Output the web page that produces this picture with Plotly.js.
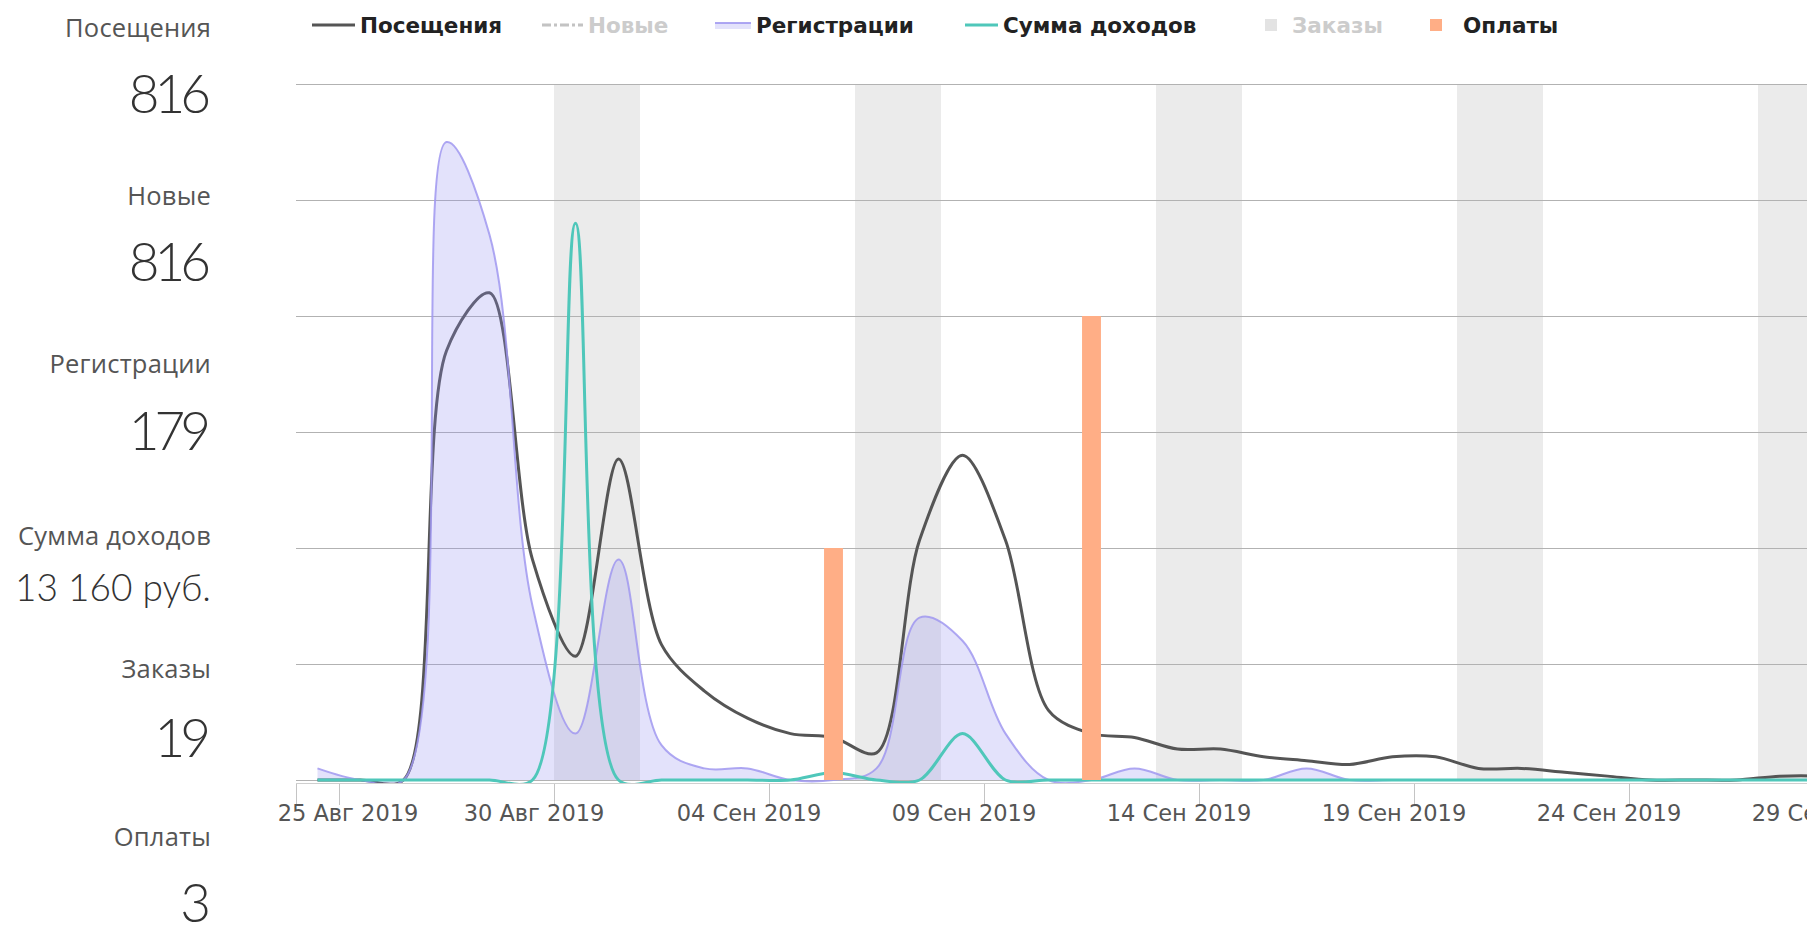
<!DOCTYPE html>
<html>
<head>
<meta charset="utf-8">
<script src="https://cdn.plot.ly/plotly-3.0.1.min.js"></script>
<style>
  html, body { margin:0; padding:0; overflow:hidden; background:#fff; width:1807px; height:930px; }
  #chart { position:absolute; left:0; top:0; width:1950px; height:930px; }
  .lbl { position:absolute; right:1596px; white-space:nowrap; font-family:"Open Sans", Lato, sans-serif; color:#555; font-size:25.5px; letter-spacing:0.2px; transform:translateY(-50%); line-height:1; }
  .num { position:absolute; right:1596px; white-space:nowrap; font-family:Lato, "Open Sans", sans-serif; font-weight:300; color:#333; font-size:53px; letter-spacing:-5px; padding-right:5px; transform:translateY(-50%); line-height:1; }
  .num.small { font-size:37px; letter-spacing:0; padding-right:0; }
</style>
</head>
<body>
<div id="chart"></div>
<div id="panel"></div>
<script>
// ---- data ----
const days = ['2019-08-24','2019-08-25','2019-08-26','2019-08-27','2019-08-28','2019-08-29','2019-08-30','2019-08-31',
  '2019-09-01','2019-09-02','2019-09-03','2019-09-04','2019-09-05','2019-09-06','2019-09-07','2019-09-08','2019-09-09',
  '2019-09-10','2019-09-11','2019-09-12','2019-09-13','2019-09-14','2019-09-15','2019-09-16','2019-09-17','2019-09-18',
  '2019-09-19','2019-09-20','2019-09-21','2019-09-22','2019-09-23','2019-09-24','2019-09-25','2019-09-26','2019-09-27',
  '2019-09-28','2019-09-29','2019-09-30'];
// rows: Aug 24-31 | Sep 1-9 | Sep 10-18 | Sep 19-27 | Sep 28-30
const visits        = [0,0,0,111,126,57,32,83,  35,23,16,12,11,7,62,84,62,  18,12,11,8,8,6,5,4,6,  6,3,3,2,1,0,0,0,1,  1,0,0];
const newVisits = visits; // "Новые" total equals "Посещения" total (816), so every visit is new
const registrations = [1,0,0,55,47,15,4,19,     3,1,1,0,0,1,14,12,4,     0,0,1,0,0,0,1,0,0,     0,0,0,0,0,0,0,0,0,  0,0,0];
const revenue       = [0,0,0,0,0,0,12000,0,     0,0,0,0,160,0,0,1000,0,  0,0,0,0,0,0,0,0,0,     0,0,0,0,0,0,0,0,0,  0,0,0];
const orders = days.map(() => null); // series hidden in the reference; daily values not readable
const payments      = [0,0,0,0,0,0,0,0,         0,0,0,0,1,0,0,0,0,       0,2,0,0,0,0,0,0,0,     0,0,0,0,0,0,0,0,0,  0,0,0];

const weekendStarts = ['2019-08-30','2019-09-06','2019-09-13','2019-09-20','2019-09-27'];
const tickDates = ['2019-08-24','2019-08-25','2019-08-30','2019-09-04','2019-09-09','2019-09-14','2019-09-19','2019-09-24','2019-09-29'];
const tickLabels = ['','25 Авг 2019','30 Авг 2019','04 Сен 2019','09 Сен 2019','14 Сен 2019','19 Сен 2019','24 Сен 2019','29 Сен 2019'];

const summary = [
  ['Посещения','816'],['Новые','816'],['Регистрации','179'],['Сумма доходов','13 160 руб.'],['Заказы','19'],['Оплаты','3']
];

// ---- left summary panel ----
const panelPos = [[28,92],[196,260],[364,429],[536,586],[669,736],[837,901]];
const panel = document.getElementById('panel');
summary.forEach((s, i) => {
  const a = document.createElement('div'); a.className = 'lbl'; a.textContent = s[0]; a.style.top = panelPos[i][0] + 'px';
  const b = document.createElement('div'); b.className = 'num' + (i === 3 ? ' small' : ''); b.textContent = s[1]; b.style.top = panelPos[i][1] + 'px';
  panel.appendChild(a); panel.appendChild(b);
});

// ---- chart ----
const W = 1950, H = 930;
const L = 296, T = 80, B = 930 - 783, R = 20;
const plotW = W - L - R, plotH = H - T - B;
const GRID_H = 696; // px between zero line and top grid line
const rng = m => [-m * 3 / GRID_H, m * (1 + 4 / GRID_H)];
const xs = days.map(d => d + ' 12:00');
const DAY = 86400000;
const VMAX = 180, RMAX = 60, SMAX = 15000, PMAX = 3;

const legFamily = '"DejaVu Sans", "Liberation Sans", sans-serif';
const legY = 1 + (T - 25) / plotH;
function leg(originPx, itemW, hidden) {
  return {x:(originPx - 1 - L) / plotW, xanchor:'left', y:legY, yanchor:'middle', orientation:'h',
    bgcolor:'rgba(0,0,0,0)', itemwidth:itemW, itemclick:false, itemdoubleclick:false,
    font:{family:legFamily, size:21.5, color: hidden ? '#9a9a9a' : '#222', weight:'bold'}};
}

const traces = [
  {name:'Посещения', x:xs, y:visits, type:'scatter', mode:'lines', line:{color:'#555555', width:3, shape:'spline', smoothing:0.9}, xaxis:'x', yaxis:'y', legend:'legend', hoverinfo:'skip'},
  {name:'Новые', x:xs, y:newVisits, type:'scatter', mode:'lines', visible:'legendonly', line:{color:'#888888', width:3, dash:'dashdot', shape:'spline'}, xaxis:'x', yaxis:'y', legend:'legend2'},
  {name:'Регистрации', x:xs, y:registrations, type:'scatter', mode:'lines', fill:'tozeroy', fillcolor:'rgba(143,139,239,0.25)', line:{color:'rgba(160,152,240,0.85)', width:2, shape:'spline', smoothing:1.05}, xaxis:'x', yaxis:'y2', legend:'legend3', hoverinfo:'skip'},
  {name:'Сумма доходов', x:xs, y:revenue, type:'scatter', mode:'lines', line:{color:'#4fc7ba', width:3, shape:'spline', smoothing:0.9}, xaxis:'x', yaxis:'y3', legend:'legend4', hoverinfo:'skip'},
  {name:'Заказы', x:xs, y:orders, type:'bar', visible:'legendonly', marker:{color:'#c8c8c8'}, xaxis:'x2', yaxis:'y4', legend:'legend5'},
  {name:'Оплаты', x:xs, y:payments, type:'bar', width:0.44 * DAY, marker:{color:'#ffae86', line:{width:0}}, xaxis:'x2', yaxis:'y4', legend:'legend6', hoverinfo:'skip'}
];

const shapes = weekendStarts.map(d => ({
  type:'rect', layer:'below', xref:'x', yref:'y',
  x0:d, x1:new Date(new Date(d + 'T00:00:00Z').getTime() + 2 * DAY).toISOString().slice(0,10),
  y0:0, y1:VMAX, fillcolor:'#ebebeb', line:{width:0}
}));

const tickFont = {family:'"DejaVu Sans", "Liberation Sans", sans-serif', size:22.5, color:'#555'};
const TICKLEN = 21, STANDOFF = -11;

const layout = {
  width:W, height:H, margin:{l:L, r:R, t:T, b:B, autoexpand:false},
  paper_bgcolor:'#fff', plot_bgcolor:'rgba(0,0,0,0)',
  showlegend:true, barmode:'overlay', hovermode:false,
  xaxis:{type:'date', range:['2019-08-24','2019-10-01'], tickvals:tickDates, ticktext:tickLabels.map((t,i) => i < 2 ? '' : t),
    ticks:'outside', ticklen:TICKLEN, tickcolor:'#c4c4c4', tickwidth:1, showgrid:false, zeroline:false,
    showline:true, linecolor:'#cfcfcf', linewidth:1, tickfont:tickFont, ticklabelshift:-20, ticklabelstandoff:STANDOFF, fixedrange:true},
  xaxis2:{type:'date', overlaying:'x', matches:'x', anchor:'y', side:'bottom', tickvals:[tickDates[1]], ticktext:[tickLabels[1]],
    ticks:'outside', ticklen:TICKLEN, tickcolor:'rgba(0,0,0,0)', showgrid:false, zeroline:false, showline:false,
    tickfont:tickFont, ticklabelshift:9, ticklabelstandoff:STANDOFF, fixedrange:true},
  yaxis:{range:rng(VMAX), dtick:30, tick0:0, showgrid:true, gridcolor:'#b2b2b2', gridwidth:1, zeroline:false, showticklabels:false, ticks:'', fixedrange:true},
  yaxis2:{range:rng(RMAX), overlaying:'y', anchor:'x', showgrid:false, zeroline:false, showticklabels:false, ticks:'', fixedrange:true},
  yaxis3:{range:rng(SMAX), overlaying:'y', anchor:'x', showgrid:false, zeroline:false, showticklabels:false, ticks:'', fixedrange:true},
  yaxis4:{range:rng(PMAX), overlaying:'y', anchor:'x2', showgrid:false, zeroline:false, showticklabels:false, ticks:'', fixedrange:true},
  legend:leg(308, 43), legend2:leg(538, 41, true), legend3:leg(711, 36), legend4:leg(961, 33), legend5:leg(1251, 32, true), legend6:leg(1410, 44),
  shapes:shapes
};

Plotly.newPlot('chart', traces, layout, {displayModeBar:false, responsive:false});
</script>
</body>
</html>
